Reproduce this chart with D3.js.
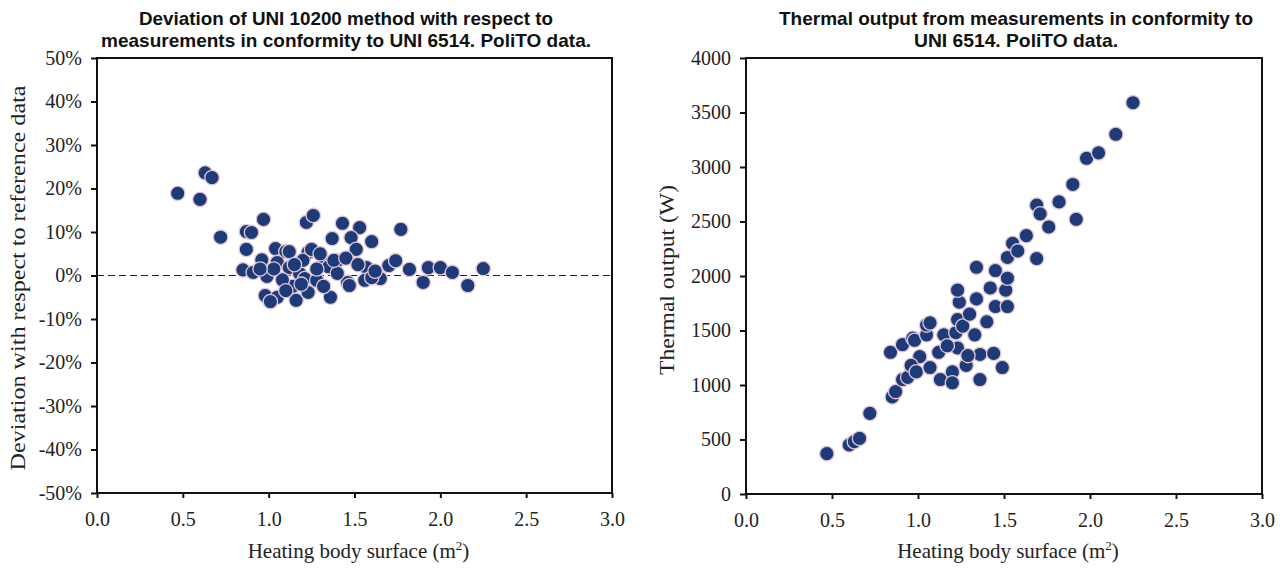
<!DOCTYPE html>
<html>
<head>
<meta charset="utf-8">
<script src="https://cdn.jsdelivr.net/npm/d3@7"></script>
<style>
  html, body { margin: 0; padding: 0; background: #fff; }
  svg { display: block; }
  .title { font-family: "Liberation Sans", Arial, sans-serif; font-weight: bold; font-size: 19px; fill: #111; }
  .tick text { font-family: "Liberation Serif", "Times New Roman", serif; font-size: 20px; fill: #222; }
  .axlabel { font-family: "Liberation Serif", "Times New Roman", serif; font-size: 21px; fill: #222; }
</style>
</head>
<body>
<svg id="chart" width="1284" height="570"></svg>
<script>
// Left panel: deviation (%) of UNI 10200 vs measured, by heating body surface (m2)
const devSurface = [0.47, 0.60, 0.63, 0.67, 0.72, 0.87, 0.97, 0.90, 0.87, 0.85, 0.91, 0.96, 1.04, 1.10, 1.05,
  1.12, 0.99, 1.18, 1.22, 0.98, 1.05, 1.14, 1.16, 1.01, 1.26, 1.43, 1.53, 1.37, 1.48, 1.60, 1.51, 1.77, 1.23,
  1.40, 1.33, 1.57, 1.70, 1.74, 1.82, 1.93, 2.00, 2.07, 1.90, 2.16, 2.25, 1.21, 1.28, 1.46, 1.56, 1.65, 1.23,
  1.36, 1.47, 1.12, 1.20, 1.25, 1.30, 1.35, 1.08, 1.15, 1.28, 1.32, 1.40, 1.10, 1.19, 1.38, 1.45, 1.52, 1.60,
  1.62, 1.03, 0.95];
const devPercent = [18.9, 17.5, 23.6, 22.5, 8.8, 10.1, 12.9, 9.9, 6.0, 1.3, 0.7, 3.6, 6.2, 5.5, 3.0,
  1.8, -0.2, 0.5, 12.2, -4.6, -5.0, -2.5, -5.7, -6.0, 13.8, 12.0, 11.0, 8.5, 8.7, 7.8, 6.0, 10.6, 5.3,
  3.4, 3.0, 1.8, 2.3, 3.4, 1.4, 1.8, 1.8, 0.7, -1.6, -2.3, 1.6, -0.7, -1.1, -1.6, -1.1, -0.7, -3.9,
  -5.0, -2.3, 5.5, 3.5, 6.0, 5.0, 2.0, -1.0, 2.5, 1.5, -2.5, 0.5, -3.5, -2.0, 3.5, 4.0, 2.5, -0.5,
  1.0, 1.5, 1.5];

// Right panel: measured thermal output (W) by heating body surface (m2)
const outSurface = [0.47, 0.60, 0.63, 0.66, 0.72, 0.85, 0.87, 0.91, 0.94, 0.84, 0.91, 0.97, 0.98, 1.01, 0.96,
  0.99, 1.05, 1.05, 1.07, 1.07, 1.12, 1.13, 1.15, 1.20, 1.20, 1.22, 1.23, 1.28, 1.33, 1.36, 1.36, 1.44, 1.49,
  1.23, 1.24, 1.23, 1.34, 1.40, 1.34, 1.42, 1.45, 1.45, 1.51, 1.52, 1.52, 1.52, 1.55, 1.58, 1.63, 1.69, 1.71,
  1.69, 1.76, 1.82, 1.90, 1.92, 1.98, 2.05, 2.15, 2.25, 1.17, 1.29, 1.26, 1.30];
const outWatt = [370, 450, 480, 510, 740, 890, 940, 1050, 1070, 1300, 1370, 1430, 1410, 1260, 1180,
  1120, 1460, 1550, 1570, 1160, 1300, 1050, 1460, 1120, 1020, 1480, 1340, 1180, 1460, 1280, 1050, 1290, 1160,
  1600, 1760, 1870, 1790, 1580, 2080, 1890, 1720, 2050, 1870, 1720, 1980, 2170, 2300, 2230, 2370, 2650, 2570,
  2160, 2450, 2680, 2840, 2520, 3080, 3130, 3300, 3590, 1360, 1270, 1540, 1650];

const xTicks = [0, 0.5, 1.0, 1.5, 2.0, 2.5, 3.0];
const devTicks = [-0.5, -0.4, -0.3, -0.2, -0.1, 0, 0.1, 0.2, 0.3, 0.4, 0.5];
const outTicks = [0, 500, 1000, 1500, 2000, 2500, 3000, 3500, 4000];

const svg = d3.select("#chart");
const markerFill = "#1d3b78";
const markerStroke = "#e2c6d6";

const defs = svg.append("defs");
const soft = defs.append("filter").attr("id", "soft").attr("x", "-30%").attr("y", "-30%").attr("width", "160%").attr("height", "160%");
soft.append("feGaussianBlur").attr("stdDeviation", 0.6);

const pct = v => d3.format(".0%")(v).replace("\u2212", "-");

function panel(cfg) {
  const g = svg.append("g");
  const x = d3.scaleLinear().domain([0, 3]).range([cfg.left, cfg.right]);
  const y = d3.scaleLinear().domain(cfg.yDomain).range([cfg.bottom, cfg.top]);

  // x axis with ticks pointing down
  const xa = g.append("g").attr("transform", `translate(0,${cfg.bottom})`)
    .call(d3.axisBottom(x).tickValues(xTicks).tickFormat(d3.format(".1f")).tickSize(5).tickPadding(14));
  xa.select(".domain").remove();
  xa.selectAll(".tick line").attr("stroke", "#111").attr("stroke-width", 2);

  const ya = g.append("g").attr("transform", `translate(${cfg.left},0)`)
    .call(d3.axisLeft(y).tickValues(cfg.yTicks).tickFormat(cfg.yFormat).tickSize(6).tickPadding(9));
  ya.select(".domain").remove();
  ya.selectAll(".tick line").attr("stroke", "#111").attr("stroke-width", 2);

  // plot frame
  g.append("rect")
    .attr("x", cfg.left).attr("y", cfg.top)
    .attr("width", cfg.right - cfg.left).attr("height", cfg.bottom - cfg.top)
    .attr("fill", "none").attr("stroke", "#111").attr("stroke-width", 2);

  if (cfg.zeroLine) {
    g.append("line")
      .attr("x1", cfg.left).attr("x2", cfg.right)
      .attr("y1", y(0)).attr("y2", y(0))
      .attr("stroke", "#222").attr("stroke-width", 1.2).attr("stroke-dasharray", "7,4");
  }

  g.append("g").attr("filter", "url(#soft)")
    .selectAll("circle").data(cfg.xs.map((v, i) => [v, cfg.ys[i]]))
    .join("circle")
    .attr("cx", d => x(d[0])).attr("cy", d => y(d[1]))
    .attr("r", 7.2)
    .attr("fill", markerFill).attr("stroke", markerStroke).attr("stroke-width", 1.3);

  const cx = (cfg.left + cfg.right) / 2;
  cfg.title.forEach((t, i) => {
    g.append("text").attr("class", "title")
      .attr("x", cfg.titleX).attr("y", 25 + i * 22)
      .attr("text-anchor", "middle")
      .attr("textLength", cfg.titleWidths[i]).attr("lengthAdjust", "spacingAndGlyphs")
      .text(t);
  });

  const xl = g.append("text").attr("class", "axlabel")
    .attr("x", cx + 4).attr("y", 558).attr("text-anchor", "middle");
  xl.append("tspan").text("Heating body surface (m");
  xl.append("tspan").attr("font-size", "13px").attr("dy", -8).text("2");
  xl.append("tspan").attr("dy", 8).text(")");

  g.append("text").attr("class", "axlabel")
    .attr("transform", `translate(${cfg.yLabelX},${cfg.yLabelY}) rotate(-90)`)
    .attr("text-anchor", "middle")
    .attr("textLength", cfg.yLabelLen).attr("lengthAdjust", "spacingAndGlyphs")
    .text(cfg.yLabel);
}

panel({
  left: 97, right: 612, top: 58, bottom: 493,
  yDomain: [-0.5, 0.5], yTicks: devTicks, yFormat: pct,
  xs: devSurface, ys: devPercent.map(v => v / 100),
  zeroLine: true,
  titleX: 346, titleWidths: [414, 490],
  title: ["Deviation of UNI 10200 method with respect to", "measurements in conformity to UNI 6514. PoliTO data."],
  yLabel: "Deviation with respect to reference data", yLabelX: 25, yLabelY: 278, yLabelLen: 385
});

panel({
  left: 746, right: 1262, top: 58, bottom: 494,
  yDomain: [0, 4000], yTicks: outTicks, yFormat: d3.format("d"),
  xs: outSurface, ys: outWatt,
  zeroLine: false,
  titleX: 1016, titleWidths: [474, 204],
  title: ["Thermal output from measurements in conformity to", "UNI 6514. PoliTO data."],
  yLabel: "Thermal output (W)", yLabelX: 674, yLabelY: 280, yLabelLen: 190
});
</script>
</body>
</html>
